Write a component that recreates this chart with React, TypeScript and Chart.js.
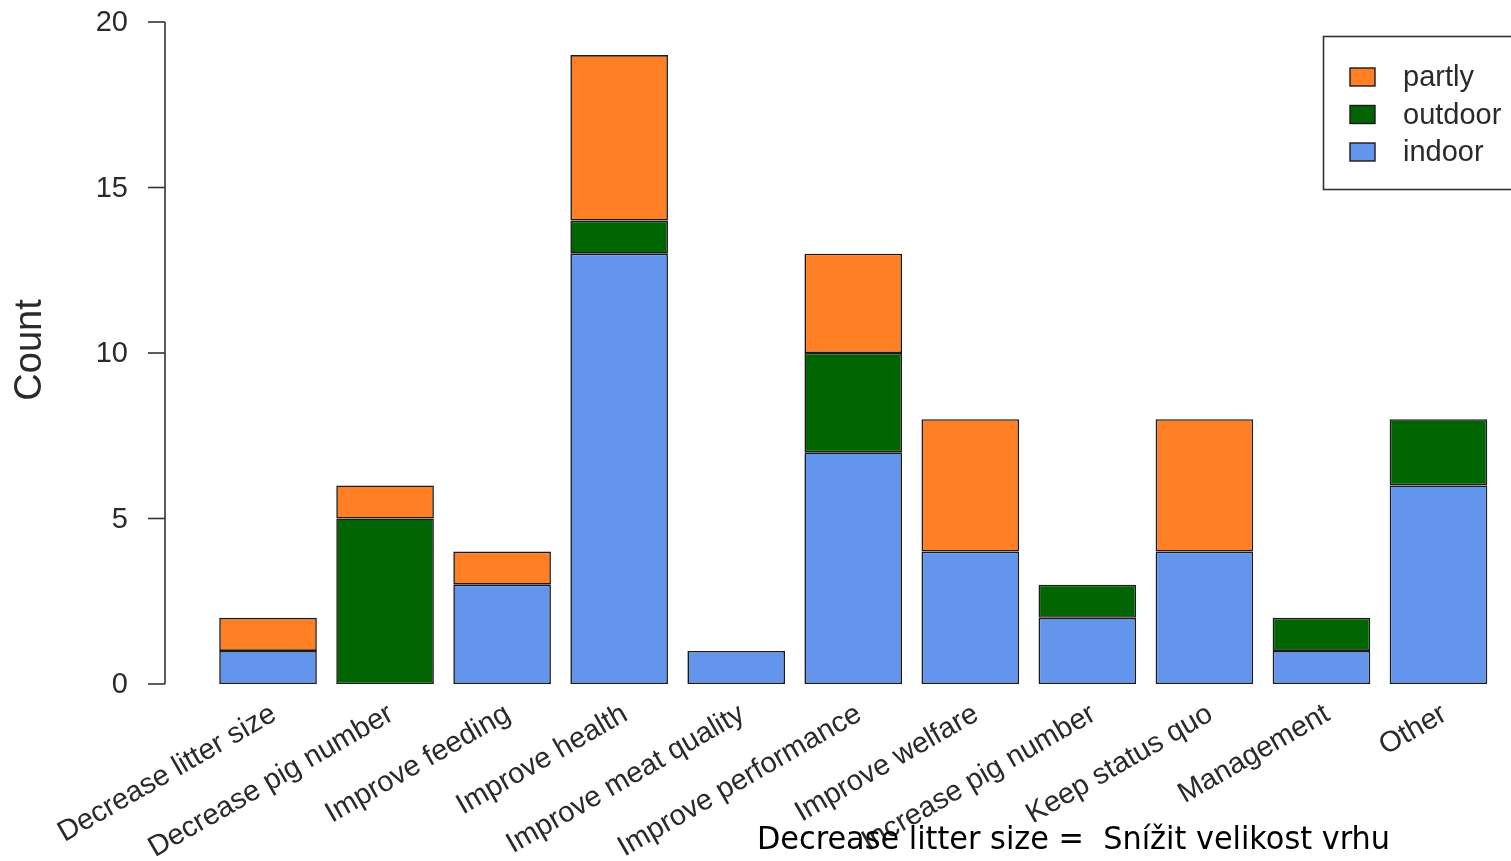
import React, { useEffect, useRef } from "react";
import { Chart, registerables } from "chart.js";

Chart.register(...registerables);

const categories = [
  "Decrease litter size",
  "Decrease pig number",
  "Improve feeding",
  "Improve health",
  "Improve meat quality",
  "Improve performance",
  "Improve welfare",
  "Increase pig number",
  "Keep status quo",
  "Management",
  "Other",
];
const indoor = [1, 0, 3, 13, 1, 7, 4, 2, 4, 1, 6];
const outdoor = [0, 5, 0, 1, 0, 3, 0, 1, 0, 1, 2];
const partly = [1, 1, 1, 5, 0, 3, 4, 0, 4, 0, 0];
const yTicks = [0, 5, 10, 15, 20];
const legendItems = ["partly", "outdoor", "indoor"];
const yTitle = "Count";
const note = "Decrease litter size =  Snížit velikost vrhu";

const COLORS: Record<string, string> = {
  indoor: "#6495ED",
  outdoor: "#006400",
  partly: "#FF7F24",
};
const INK = "#1a1a1a";
const FONT = "'Liberation Sans', Arial, sans-serif";

const nz = (arr: number[]) => arr.map((v) => (v === 0 ? null : v));

const overlayPlugin = {
  id: "rOverlay",
  afterDraw(chart: any) {
    const ctx: CanvasRenderingContext2D = chart.ctx;
    const y = chart.scales.y;
    const x = chart.scales.x;
    ctx.save();
    // y axis
    const axisX = 165;
    ctx.strokeStyle = "#333";
    ctx.lineWidth = 1.6;
    ctx.beginPath();
    ctx.moveTo(axisX, y.getPixelForValue(yTicks[0]));
    ctx.lineTo(axisX, y.getPixelForValue(yTicks[yTicks.length - 1]));
    ctx.stroke();
    ctx.fillStyle = "#2a2a2a";
    ctx.font = `29px ${FONT}`;
    ctx.textAlign = "right";
    ctx.textBaseline = "middle";
    for (const t of yTicks) {
      const py = y.getPixelForValue(t);
      ctx.beginPath();
      ctx.moveTo(axisX - 17, py);
      ctx.lineTo(axisX, py);
      ctx.stroke();
      ctx.fillText(String(t), 128, py + 1);
    }
    // y title
    ctx.save();
    ctx.translate(31, 350);
    ctx.rotate(-Math.PI / 2);
    ctx.textAlign = "center";
    ctx.textBaseline = "middle";
    ctx.font = `38px ${FONT}`;
    ctx.fillText(yTitle, 0, 0);
    ctx.restore();

    // x labels rotated 30 degrees
    ctx.font = `29px ${FONT}`;
    categories.forEach((c, i) => {
      const px = x.getPixelForValue(i);
      ctx.save();
      ctx.translate(px + 6, 712);
      ctx.rotate(-Math.PI / 6);
      ctx.textAlign = "right";
      ctx.textBaseline = "middle";
      ctx.fillText(c, 0, 0);
      ctx.restore();
    });

    // legend
    ctx.lineWidth = 1.6;
    ctx.strokeStyle = "#333";
    ctx.strokeRect(1323.5, 36.5, 200, 153);
    ctx.font = `29px ${FONT}`;
    ctx.textAlign = "left";
    ctx.textBaseline = "middle";
    legendItems.forEach((name, i) => {
      const cy = 77 + i * 37.5;
      ctx.fillStyle = COLORS[name];
      ctx.fillRect(1350, cy - 9, 25, 18);
      ctx.strokeStyle = INK;
      ctx.lineWidth = 1.4;
      ctx.strokeRect(1350, cy - 9, 25, 18);
      ctx.fillStyle = "#2a2a2a";
      ctx.fillText(name, 1403, cy + 1);
    });

    // overlay note
    ctx.fillStyle = "#000";
    ctx.font = `32px 'DejaVu Sans', sans-serif`;
    ctx.textAlign = "left";
    ctx.textBaseline = "alphabetic";
    ctx.fillText(note, 757, 849, 633);
    ctx.restore();
  },
};

export default function App() {
  const ref = useRef<HTMLCanvasElement>(null);
  useEffect(() => {
    if (!ref.current) return;
    const common = {
      borderColor: INK,
      borderWidth: 1.6,
      borderSkipped: false as const,
      barPercentage: 0.834,
      categoryPercentage: 1,
    };
    const chart = new Chart(ref.current, {
      type: "bar",
      data: {
        labels: categories,
        datasets: [
          { label: "indoor", data: nz(indoor), backgroundColor: COLORS.indoor, ...common },
          { label: "outdoor", data: nz(outdoor), backgroundColor: COLORS.outdoor, ...common },
          { label: "partly", data: nz(partly), backgroundColor: COLORS.partly, ...common },
        ],
      },
      options: {
        responsive: false,
        animation: false,
        layout: { padding: { left: 209.5, right: 14, top: 22, bottom: 177 } },
        scales: {
          x: { display: false, stacked: true, offset: true },
          y: { display: false, stacked: true, min: 0, max: 20 },
        },
        plugins: { legend: { display: false }, tooltip: { enabled: false } },
      },
      plugins: [overlayPlugin],
    });
    return () => chart.destroy();
  }, []);
  return (
    <div style={{ position: "absolute", left: 0, top: 0, width: 1511, height: 861, background: "#fff" }}>
      <canvas ref={ref} width={1511} height={861} style={{ display: "block" }} />
    </div>
  );
}
